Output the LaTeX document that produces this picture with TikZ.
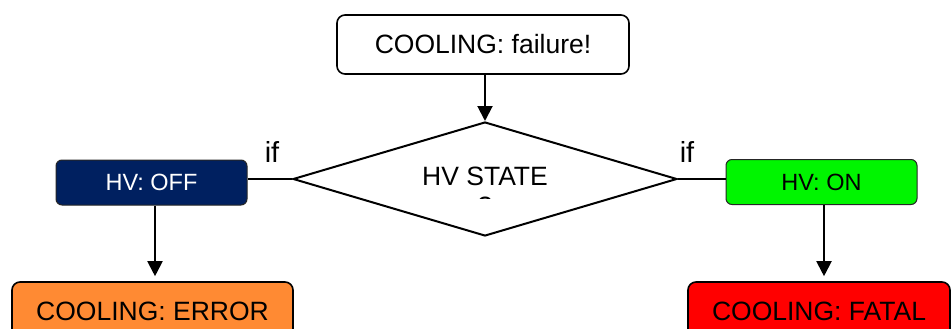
\documentclass[tikz,border=0pt]{standalone}
\usepackage{fontspec}
\setmainfont{Liberation Sans}
\usetikzlibrary{shapes.geometric,arrows.meta}
\definecolor{hvoff}{HTML}{002060}
\definecolor{hvon}{HTML}{00F500}
\definecolor{errorfill}{HTML}{FF8A33}
\definecolor{fatalfill}{HTML}{FF0000}
\begin{document}
\begin{tikzpicture}[x=1pt,y=-1pt,
  bigbox/.style={draw, rounded corners=8pt, line width=1.6pt, inner sep=0pt,
    font=\fontsize{26.5}{30}\selectfont, minimum height=59pt},
  statebox/.style={draw=black!85, rounded corners=6pt, line width=1pt, inner sep=0pt,
    font=\fontsize{23.5}{27}\selectfont, minimum width=191pt, minimum height=45pt},
  iflabel/.style={font=\fontsize{29}{32}\selectfont, inner sep=0pt},
  link/.style={line width=2pt},
  flow/.style={link, -{Triangle[width=15pt,length=15pt]}}]
\useasboundingbox (0,0) rectangle (951,329);
\clip (0,0) rectangle (951,329);

% start of the decision
\node[bigbox, minimum width=292pt] (start) at (483,44.5) {COOLING: failure!};

% decision on the high voltage state
\node[draw, diamond, line width=2pt, inner sep=0pt,
  minimum width=384pt, minimum height=114pt] (hv) at (485,179) {};
\node[font=\fontsize{26.5}{30}\selectfont, inner sep=0pt] (hvtext) at (485,176.5) {HV STATE};
\begin{scope}
  \clip (400,150) rectangle (570,198.5);
  \node[font=\fontsize{26.5}{30}\selectfont, inner sep=0pt] (hvmark) at (485,206.5) {?};
\end{scope}

% the two branches
\node[statebox, fill=hvoff, text=white] (off) at (151.5,182.5) {HV: OFF};
\node[statebox, fill=hvon] (on) at (821.5,182) {HV: ON};
\node[iflabel] (ifoff) at (272,152) {if};
\node[iflabel] (ifon) at (687,152) {if};

% outcomes
\node[bigbox, fill=errorfill, minimum width=281pt] (err) at (152.5,311.5) {COOLING: ERROR};
\node[bigbox, fill=fatalfill, minimum width=262pt] (fatal) at (819,311.5) {COOLING: FATAL};

% connectors
\draw[flow] (start.south -| hv.north) -- (hv.north);
\draw[link] (hv.west) -- (hv.west -| off.east);
\draw[link] (hv.east) -- (hv.east -| on.west);
\draw[flow, shorten >=5pt] ([xshift=3.5pt]off.south) -- ([xshift=3.5pt]off.south |- err.north);
\draw[flow, shorten >=5pt] ([xshift=2.5pt]on.south) -- ([xshift=2.5pt]on.south |- fatal.north);
\end{tikzpicture}
\end{document}
